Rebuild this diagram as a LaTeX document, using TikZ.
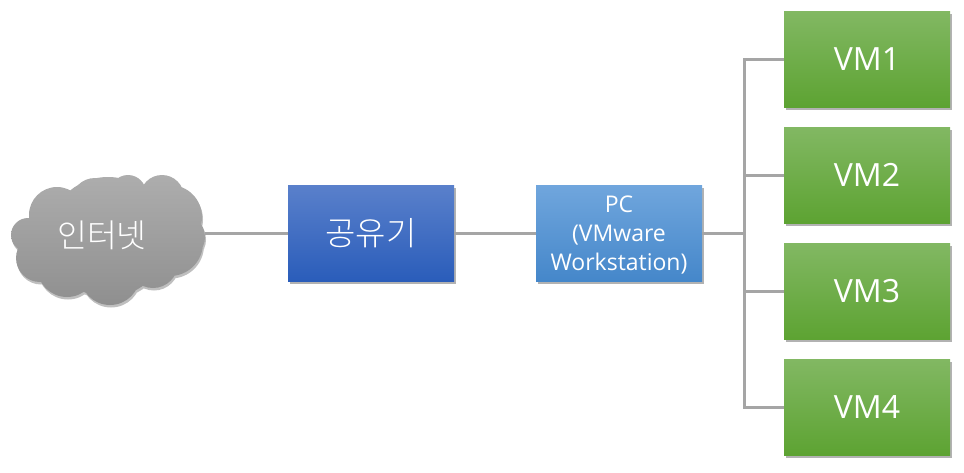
\documentclass[tikz,border=0pt]{standalone}
\usepackage{fontspec}
\setmainfont{Open Sans}
\newfontfamily\korfont{Noto Sans CJK KR Light}
\usetikzlibrary{positioning, shadows}

\begin{document}
\begin{tikzpicture}[
  x=1pt, y=-1pt,
  node distance=20pt,
  shade box/.style={shade, shading angle=0, outer sep=0pt, text=white, align=center,
    minimum width=166pt, minimum height=96pt, inner sep=0pt,
    drop shadow={shadow xshift=1.5pt, shadow yshift=-2.5pt, opacity=0.3, fill=black}},
  vmbox/.style={shade box, bottom color=vmlow, top color=vmhigh, text depth=-3pt, font=\fontsize{32}{34}\selectfont},
  routerbox/.style={shade box, bottom color=routerlow, top color=routerhigh, font=\korfont\fontsize{33}{36}\selectfont},
  pcbox/.style={shade box, bottom color=pclow, top color=pchigh, font=\fontsize{23}{29}\selectfont},
  netcloud/.style={shade, shading angle=0, bottom color=cloudlow, top color=cloudhigh,
    drop shadow={shadow xshift=1pt, shadow yshift=-2.5pt, opacity=0.25, fill=black}},
  nettext/.style={text=white, font=\korfont\fontsize{32.5}{36}\selectfont},
  link/.style={draw=linegray, line width=3pt}
]
\definecolor{vmhigh}{HTML}{82B863}
\definecolor{vmlow}{HTML}{5DA332}
\definecolor{routerhigh}{HTML}{5A80CB}
\definecolor{routerlow}{HTML}{2A5DBA}
\definecolor{pchigh}{HTML}{70A6DD}
\definecolor{pclow}{HTML}{4587CA}
\definecolor{cloudhigh}{HTML}{ADADAD}
\definecolor{cloudlow}{HTML}{8F8F8F}
\definecolor{linegray}{HTML}{A5A5A5}

\useasboundingbox (0,0) rectangle (964,472);

% cloud made of puffs
\path[netcloud] (108,237) circle (60)
  (57,215) circle (28) (95,202) circle (24) (128,193) circle (18)
  (162,197) circle (22) (170,217) circle (32) (182,237) circle (23)
  (170,243) circle (33) (153,263) circle (25) (110,275) circle (30)
  (67,267) circle (30) (40,258) circle (24) (28,235) circle (17);
\node[nettext] (net) at (102,235) {인터넷};
\coordinate (netedge) at (205,233);

\node[vmbox] (vm1) at (867,59) {VM1};
\node[vmbox, below=of vm1] (vm2) {VM2};
\node[vmbox, below=of vm2] (vm3) {VM3};
\node[vmbox, below=of vm3] (vm4) {VM4};

\node[pcbox] (pc) at (619,233) {\rule{0pt}{21pt}PC\\(VMware\\Workstation)};
\node[routerbox, left=82pt of pc] (router) {공유기};

\coordinate (bus) at (744,233);

\draw[link] (router.west) -- (netedge);
\draw[link] (router.east) -- (pc.west);
\draw[link] (pc.east) -- (bus);
\draw[link] (bus) |- (vm1.west);
\draw[link] (bus) |- (vm2.west);
\draw[link] (bus) |- (vm3.west);
\draw[link] (bus) |- (vm4.west);

\end{tikzpicture}
\end{document}
